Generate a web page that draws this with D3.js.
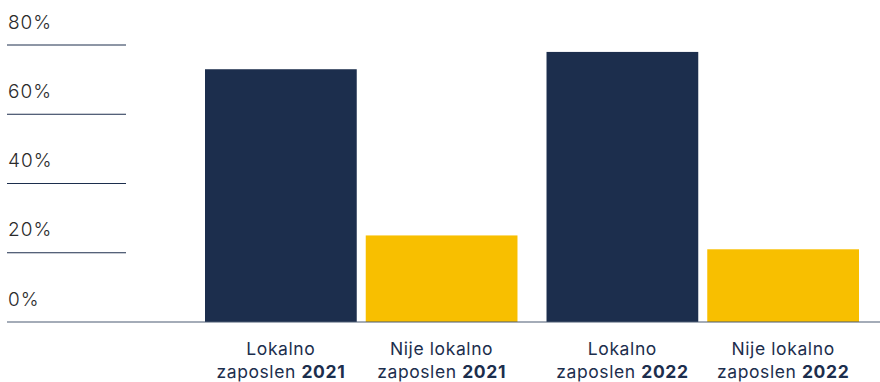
<!DOCTYPE html>
<html>
<head>
<meta charset="utf-8">
<script src="https://cdn.jsdelivr.net/npm/d3@7"></script>
<style>
  html, body { margin: 0; padding: 0; background: #fff; }
  svg { display: block; }
  text { font-family: Inter, "Noto Sans", sans-serif; }
</style>
</head>
<body>
<svg id="chart" width="880" height="382"></svg>
<script>
// Share of employees, by employment type and year (%)
const years = ["2021", "2022"];
const groups = ["Lokalno", "Nije lokalno"];
const localValues = [73, 78];
const nonLocalValues = [25, 21];
const yTicks = [0, 20, 40, 60, 80];
const tickLabels = ["0%", "20%", "40%", "60%", "80%"];

const navy = "#1c2e4d";
const yellow = "#f8bf00";

const rows = [];
years.forEach((yr, i) => {
  rows.push({ year: yr, group: groups[0], value: localValues[i] });
  rows.push({ year: yr, group: groups[1], value: nonLocalValues[i] });
});

const svg = d3.select("#chart");

const y = d3.scaleLinear().domain([0, 80]).range([322, 45]);

const x0 = d3.scaleBand().domain(years).range([205, 859]).paddingInner(0.085).paddingOuter(0);
const x1 = d3.scaleBand().domain(groups).range([0, x0.bandwidth()]).paddingInner(0.056).paddingOuter(0);

const color = d3.scaleOrdinal().domain(groups).range([navy, yellow]);

// short gridlines on the left with their labels above
const grid = svg.append("g");
grid.selectAll("line")
  .data(yTicks.filter(d => d > 0))
  .join("line")
  .attr("x1", 7).attr("x2", 126)
  .attr("y1", d => y(d)).attr("y2", d => y(d))
  .attr("stroke", navy)
  .attr("stroke-width", 1);

grid.selectAll("text")
  .data(yTicks)
  .join("text")
  .attr("x", 8)
  .attr("y", d => y(d) - 16.5)
  .attr("fill", "#2b2b2b")
  .attr("font-size", 19)
  .attr("font-weight", 300)
  .attr("letter-spacing", 1)
  .text((d, i) => tickLabels[i]);

// bars
svg.append("g")
  .selectAll("rect")
  .data(rows)
  .join("rect")
  .attr("x", d => x0(d.year) + x1(d.group))
  .attr("width", x1.bandwidth())
  .attr("y", d => y(d.value))
  .attr("height", d => y(0) - y(d.value))
  .attr("fill", d => color(d.group));

// baseline across the full width
svg.append("line")
  .attr("x1", 7).attr("x2", 880)
  .attr("y1", y(0)).attr("y2", y(0))
  .attr("stroke", "#4b5a72")
  .attr("stroke-width", 1.2);

// category labels, two lines, year in bold
const labels = svg.append("g")
  .selectAll("text")
  .data(rows)
  .join("text")
  .attr("text-anchor", "middle")
  .attr("fill", navy)
  .attr("font-size", 17.5)
  .attr("letter-spacing", 0.6);

labels.append("tspan")
  .attr("x", d => x0(d.year) + x1(d.group) + x1.bandwidth() / 2)
  .attr("y", 355)
  .text(d => d.group);

const second = labels.append("tspan")
  .attr("x", d => x0(d.year) + x1(d.group) + x1.bandwidth() / 2)
  .attr("y", 378);
second.append("tspan").text("zaposlen ");
second.append("tspan").attr("font-weight", 700).text(d => d.year);
</script>
</body>
</html>
